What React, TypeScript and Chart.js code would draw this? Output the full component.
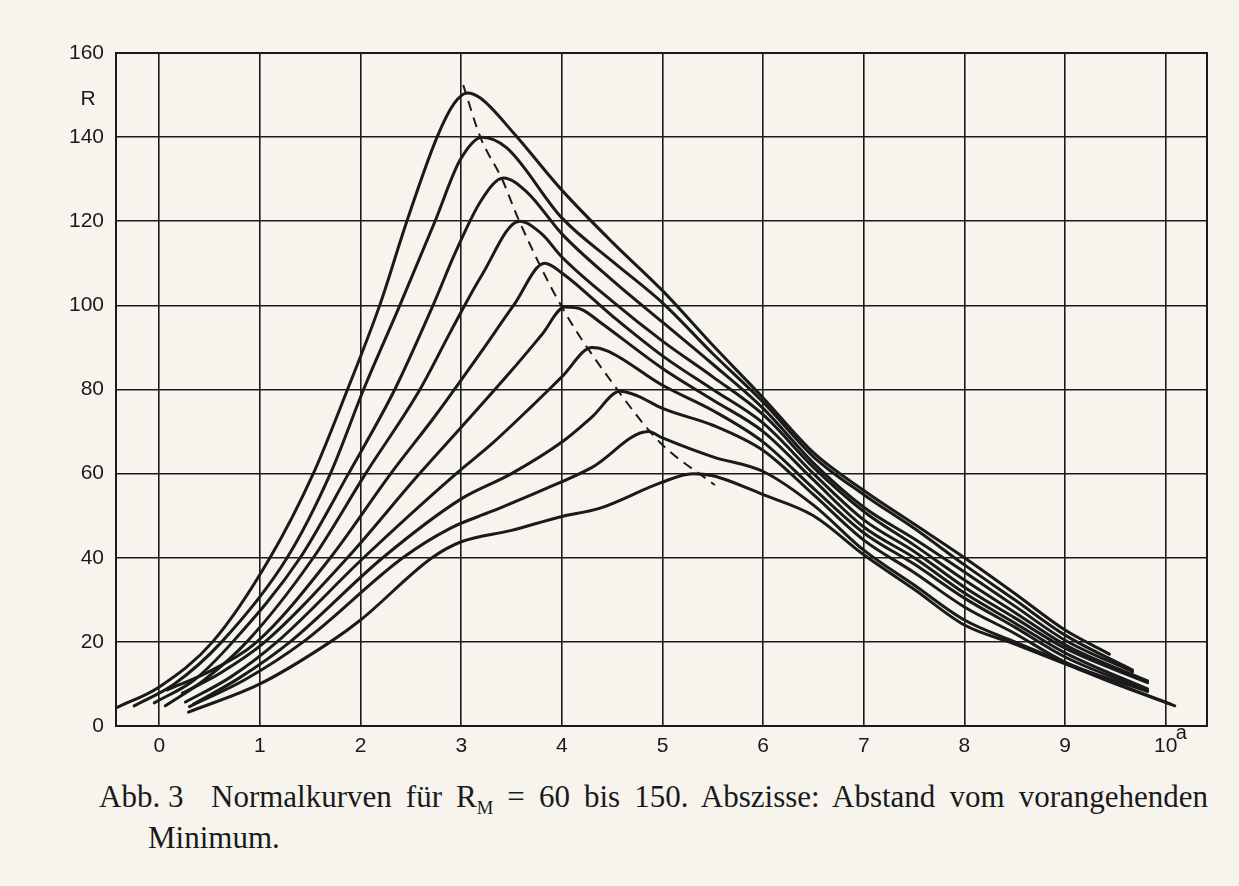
import React, { useEffect, useRef } from "react";
import { Chart, registerables } from "chart.js";

Chart.register(...registerables);

// Axis ticks
const xTicks = [0, 1, 2, 3, 4, 5, 6, 7, 8, 9, 10];
const yTicks = [0, 20, 40, 60, 80, 100, 120, 140, 160];
const X_MIN = -0.43;
const X_MAX = 10.41;
const Y_MIN = 0;
const Y_MAX = 160;

// Normal curves, [a, R] pairs, for R_M = 150 ... 60
const curve150: [number, number][] = [
  [-0.43, 4.3], [0, 9.3], [0.53, 20], [1.1, 40], [1.53, 60], [1.87, 80], [2.19, 100], [2.46, 120],
  [2.76, 140], [2.93, 148], [3.06, 150.5], [3.19, 149.3], [3.52, 141], [4, 127.4], [4.51, 114.8],
  [5, 103.5], [5.5, 90.5], [6, 78], [6.5, 65], [7, 56], [7.5, 48], [8, 40], [8.5, 31.5], [9, 22.8], [9.44, 17.1],
];
const curve140: [number, number][] = [
  [-0.25, 4.8], [0.15, 10], [0.62, 20], [1.27, 40], [1.7, 60], [2.03, 80], [2.39, 100], [2.74, 120],
  [2.99, 134.6], [3.21, 140], [3.45, 137.5], [4, 120.8], [4.5, 110.5], [5, 100.6], [5.5, 88.5],
  [6, 77], [6.5, 64], [7, 55], [7.5, 47], [8, 38.3], [8.5, 30], [9, 21.6], [9.67, 13.3],
];
const curve130: [number, number][] = [
  [-0.05, 5.5], [0.35, 11], [0.73, 20], [1.4, 40], [1.88, 60], [2.34, 80], [2.72, 100], [2.95, 113],
  [3.2, 125], [3.42, 130.3], [3.65, 127], [4, 117], [4.5, 106], [5, 96], [5.5, 86], [6, 75.5],
  [6.5, 62.5], [7, 52], [7.5, 44.5], [8, 36.6], [8.5, 28.5], [9, 20.4], [9.67, 12.9],
];
const curve120: [number, number][] = [
  [0.06, 4.8], [0.45, 11], [0.87, 20], [1.53, 40], [2.05, 60], [2.59, 80], [2.9, 94], [3.2, 107],
  [3.58, 120], [3.8, 117], [4, 111.5], [4.5, 101], [5, 91.5], [5.5, 83], [6, 74], [6.5, 61.5],
  [7, 51], [7.5, 43], [8, 34.7], [8.5, 27], [9, 19.3], [9.82, 10.7],
];
const curve110: [number, number][] = [
  [0.08, 8.6], [0.5, 13], [0.97, 20], [1.7, 40], [2.3, 60], [2.75, 74], [3.2, 89], [3.52, 100],
  [3.83, 110], [4, 107.7], [4.5, 97.5], [5, 88], [5.5, 80], [6, 72], [6.5, 60],
  [7, 49], [7.5, 41.5], [8, 33], [8.5, 25.7], [9, 18.5], [9.82, 10.3],
];
const curve100: [number, number][] = [
  [0.23, 7.8], [0.6, 12.5], [1.05, 20], [1.87, 40], [2.55, 59], [3.0, 71], [3.5, 84.5], [3.8, 93],
  [4.03, 99.6], [4.2, 99], [4.38, 96], [5, 85], [5.5, 77.5], [6, 70], [6.5, 58.5],
  [7, 47.3], [7.5, 40], [8, 31.6], [8.5, 24.5], [9, 17.4], [9.82, 8.8],
];
const curve90: [number, number][] = [
  [0.26, 5.7], [0.7, 11.5], [1.17, 20], [2.03, 40], [2.95, 60], [3.3, 67], [3.7, 76], [4.0, 83],
  [4.3, 90], [4.45, 89.2], [5, 81], [5.5, 75], [6, 67.5], [6.5, 56.5], [7, 45.9], [7.5, 38.5],
  [8, 30.4], [8.5, 23.5], [9, 16.4], [9.82, 8.4],
];
const curve80: [number, number][] = [
  [0.34, 5.2], [0.8, 11.5], [1.3, 20], [2.22, 40], [3.0, 54], [3.5, 60], [4.0, 67.5], [4.3, 73.5],
  [4.58, 79.6], [4.75, 78.5], [5, 75.5], [5.5, 71.5], [6, 65.5], [6.5, 55], [7, 44.2],
  [7.5, 36.5], [8, 28.3], [8.5, 22], [9, 15.2], [9.82, 8.2],
];
const curve70: [number, number][] = [
  [0.3, 4.6], [0.85, 11], [1.43, 20], [2.42, 40], [2.89, 47], [3.3, 51], [3.8, 56], [4.3, 61.5],
  [4.86, 70], [5.0, 68.5], [5.5, 64], [6, 60.5], [6.5, 52.5], [7, 41.8], [7.5, 33.5],
  [8, 25.2], [8.5, 20], [9, 15], [9.5, 10.2], [10.05, 5.2],
];
const curve60: [number, number][] = [
  [0.29, 3.3], [1.0, 10], [1.7, 20], [2.0, 25.2], [2.71, 40], [3.0, 43.8], [3.5, 46.5], [3.98, 49.7],
  [4.38, 51.8], [4.98, 57.8], [5.3, 60], [5.5, 59.5], [6, 55], [6.5, 50], [7, 40.7], [7.5, 32.5],
  [8, 24], [8.5, 19.5], [9, 14.8], [9.5, 10], [10.09, 4.8],
];
// dashed line through the maxima
const peakLine: [number, number][] = [
  [3.02, 152.4], [3.19, 140], [3.41, 129.8], [3.57, 120.4], [4.0, 99.6], [4.55, 80], [4.98, 67.3], [5.52, 57.3],
];

const curveNames = ["150", "140", "130", "120", "110", "100", "90", "80", "70", "60"];
const curves = [curve150, curve140, curve130, curve120, curve110, curve100, curve90, curve80, curve70, curve60];

const INK = "#1a1a1a";
const PAPER = "#f6f4ec";
const SANS = '"Liberation Sans", Arial, sans-serif';

const frameAndLabels = {
  id: "frameAndLabels",
  beforeDatasetsDraw(chart: any) {
    const { ctx, chartArea } = chart;
    ctx.save();
    ctx.strokeStyle = INK;
    ctx.lineWidth = 2;
    ctx.strokeRect(chartArea.left, chartArea.top, chartArea.right - chartArea.left, chartArea.bottom - chartArea.top);
    ctx.restore();
  },
  afterDraw(chart: any) {
    const { ctx, chartArea, scales } = chart;
    ctx.save();
    ctx.fillStyle = INK;
    ctx.font = "21px " + SANS;
    ctx.textAlign = "center";
    ctx.textBaseline = "middle";
    ctx.fillText("R", chartArea.left - 28, scales.y.getPixelForValue(149));
    ctx.font = "20px " + SANS;
    ctx.textAlign = "left";
    ctx.fillText("a", scales.x.getPixelForValue(10) + 10, chartArea.bottom + 7);
    ctx.restore();
  },
};

export default function App() {
  const ref = useRef<HTMLCanvasElement | null>(null);

  useEffect(() => {
    document.body.style.margin = "0";
    document.body.style.background = PAPER;
    if (!ref.current) return;
    const datasets: any[] = curves.map((c, i) => ({
      label: "R_M = " + curveNames[i],
      data: c.map(([x, y]) => ({ x, y })),
      borderColor: INK,
      borderWidth: 3,
      pointRadius: 0,
      fill: false,
      cubicInterpolationMode: "monotone",
      borderCapStyle: "round",
      borderJoinStyle: "round",
    }));
    datasets.push({
      label: "Maxima",
      data: peakLine.map(([x, y]) => ({ x, y })),
      borderColor: INK,
      borderWidth: 2,
      borderDash: [10, 7],
      pointRadius: 0,
      fill: false,
      cubicInterpolationMode: "monotone",
    });

    const chart = new Chart(ref.current, {
      type: "line",
      data: { datasets },
      plugins: [frameAndLabels],
      options: {
        animation: false,
        responsive: false,
        maintainAspectRatio: false,
        layout: { padding: { top: 53, right: 32, left: 0, bottom: 0 } },
        plugins: { legend: { display: false }, tooltip: { enabled: false } },
        scales: {
          x: {
            type: "linear",
            min: X_MIN,
            max: X_MAX,
            afterBuildTicks: (s: any) => {
              s.ticks = xTicks.map((v) => ({ value: v }));
            },
            afterFit: (s: any) => {
              s.height = 34;
            },
            grid: { color: INK, lineWidth: 1.6, drawTicks: false },
            border: { display: false },
            ticks: {
              padding: 8,
              color: INK,
              maxRotation: 0,
              autoSkip: false,
              font: { family: SANS, size: 21 },
            },
          },
          y: {
            type: "linear",
            min: Y_MIN,
            max: Y_MAX,
            afterBuildTicks: (s: any) => {
              s.ticks = yTicks.map((v) => ({ value: v }));
            },
            afterFit: (s: any) => {
              s.width = 116;
            },
            grid: { color: INK, lineWidth: 1.6, drawTicks: false },
            border: { display: false },
            ticks: {
              padding: 12,
              color: INK,
              autoSkip: false,
              font: { family: SANS, size: 21 },
            },
          },
        },
      },
    });
    return () => chart.destroy();
  }, []);

  const serif = '"Liberation Serif", "Times New Roman", serif';
  const textStyle: any = { position: "absolute", fontFamily: serif, fontSize: 31, color: INK, lineHeight: "34px" };
  return (
    <div style={{ position: "relative", width: 1239, height: 886, background: PAPER, overflow: "hidden" }}>
      <canvas ref={ref} width={1239} height={760} style={{ position: "absolute", left: 0, top: 0 }} />
      <div style={{ ...textStyle, left: 99, top: 780, whiteSpace: "nowrap" }}>Abb. 3</div>
      <div
        style={{
          ...textStyle,
          left: 211,
          top: 780,
          width: 997,
          textAlign: "justify",
          textAlignLast: "justify",
          whiteSpace: "normal",
        }}
      >
        Normalkurven für R<sub style={{ fontSize: "0.6em", lineHeight: 0 }}>M</sub> = 60 bis 150. Abszisse: Abstand vom vorangehenden
      </div>
      <div style={{ ...textStyle, left: 148, top: 821, whiteSpace: "nowrap" }}>Minimum.</div>
    </div>
  );
}
